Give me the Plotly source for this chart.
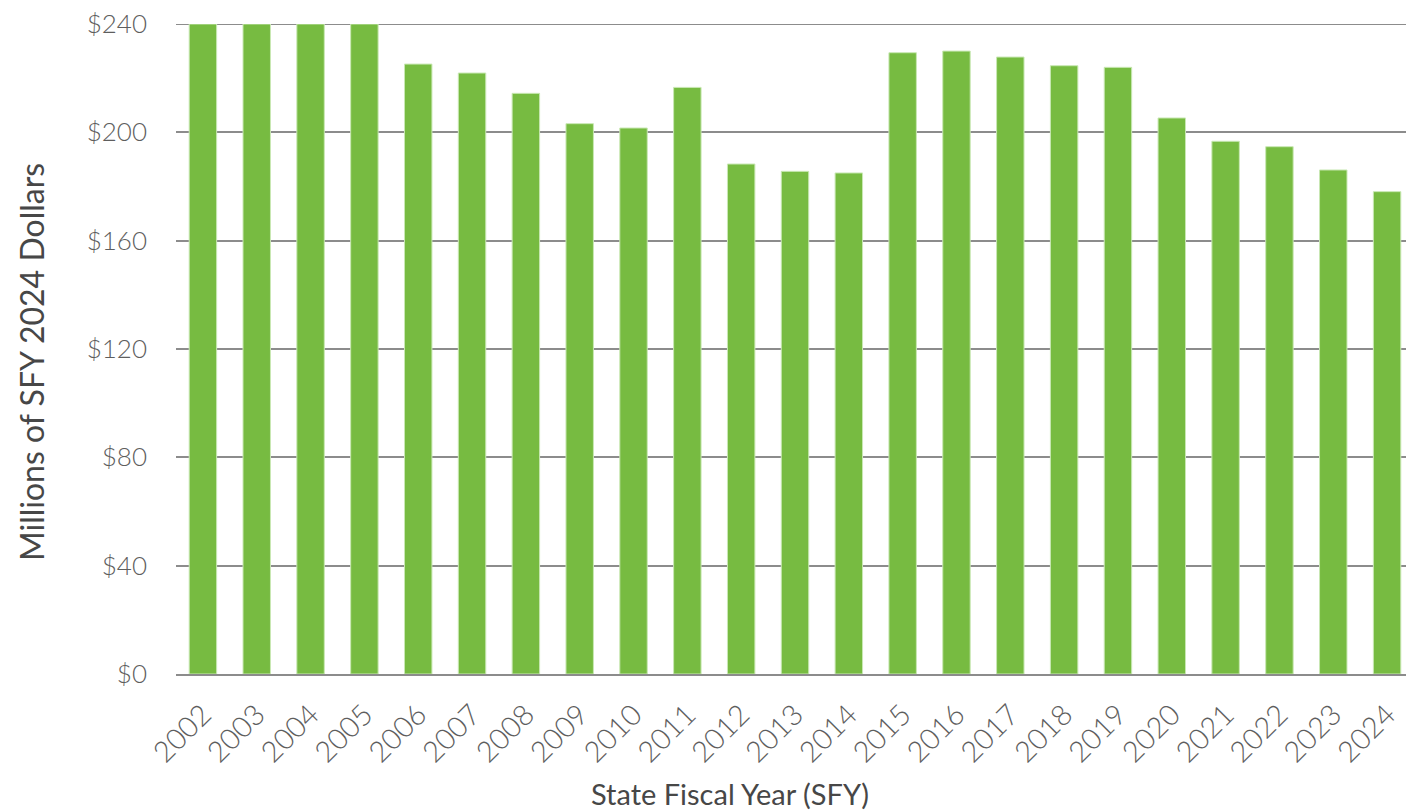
import plotly.graph_objects as go

years = [str(y) for y in range(2002, 2025)]
values = [240, 240, 240, 240, 225.2, 221.9, 214.4, 203.2, 201.6, 216.6, 188.3, 185.6,
          185.0, 229.4, 230.0, 227.8, 224.6, 224.0, 205.3, 196.7, 194.7, 186.1, 178.1]
y_ticks = [0, 40, 80, 120, 160, 200, 240]
y_tick_labels = ["$" + str(v) for v in y_ticks]

FONT = "Lato"
TICK_COLOR = "#5e5e5e"
TITLE_COLOR = "#474747"
GRID = "#8c8c8c"

fig = go.Figure(go.Bar(
    x=years, y=values,
    marker=dict(color="#77BB41", line=dict(color="#c9e8b4", width=1)),
    width=0.51,
))

# page body has an 8px margin, so the figure is sized to fit the window
fig.update_layout(
    width=1406, height=803,
    margin=dict(l=168, r=0, t=16, b=137, autoexpand=False),
    paper_bgcolor="white", plot_bgcolor="white",
    showlegend=False,
    font=dict(family=FONT, color=TICK_COLOR),
    bargap=0.49,
)
fig.update_yaxes(
    range=[0, 240], tickvals=y_ticks, ticktext=y_tick_labels,
    showgrid=True, gridcolor=GRID, gridwidth=2,
    zeroline=False, showline=False, automargin=False,
    tickfont=dict(size=26, family=FONT, color=TICK_COLOR, weight=300),
    ticklabelstandoff=28, ticklabeloverflow="allow",
)
fig.update_xaxes(
    type="category", tickangle=-45, automargin=False,
    showline=True, linecolor=GRID, linewidth=2,
    showgrid=False,
    tickfont=dict(size=29, family=FONT, color=TICK_COLOR, weight=300),
    ticklabelstandoff=10, ticklabeloverflow="allow",
)
# top gridline (plotly omits the grid line at the range edge)
fig.add_hline(y=y_ticks[-1], line_color=GRID, line_width=2, layer="below")

fig.add_annotation(
    text="Millions of SFY 2024 Dollars", textangle=-90,
    xref="paper", yref="paper", x=(31 - 176) / 1238, y=(674 - 362) / 650,
    xanchor="center", yanchor="middle", showarrow=False,
    font=dict(size=32, family=FONT, color=TITLE_COLOR),
)
fig.add_annotation(
    text="State Fiscal Year (SFY)",
    xref="paper", yref="paper", x=(730 - 176) / 1238, y=-(793 - 674) / 650,
    xanchor="center", yanchor="middle", showarrow=False,
    font=dict(size=29, family=FONT, color=TITLE_COLOR),
)

fig.write_html("out.html")
